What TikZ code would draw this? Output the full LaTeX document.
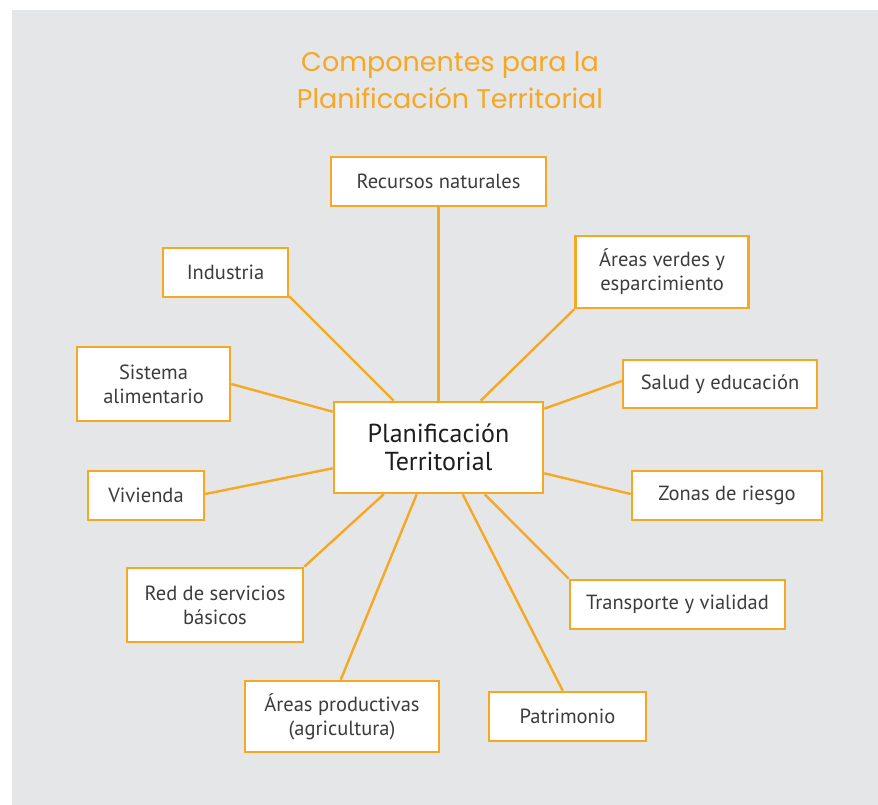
\documentclass[tikz,border=0pt]{standalone}
\usepackage{fontspec}
\setmainfont{PT Sans}
\newfontfamily\titlefont{Poppins}
\usetikzlibrary{calc}
\definecolor{orng}{RGB}{247,168,35}
\definecolor{bggray}{RGB}{229,230,232}
\definecolor{txtgray}{RGB}{60,60,62}
\definecolor{txtdark}{RGB}{30,30,33}
\tikzset{
  compbox/.style={draw=orng, line width=2.6pt, fill=white, inner sep=0pt, align=center,
    text=txtgray, font=\fontsize{20.5}{24}\selectfont, anchor=center},
  mainbox/.style={compbox, text=txtdark, font=\fontsize{26}{28}\selectfont},
  link/.style={draw=orng, line width=2.4pt}
}
\begin{document}
\begin{tikzpicture}[x=1pt,y=-1pt]
\useasboundingbox (0,0) rectangle (878,805);
\fill[bggray] (12,10) rectangle (878,805);
\node[text=orng, align=center, font=\titlefont\fontsize{27}{37}\selectfont] (title) at (450,80)
  {Componentes para la\\Planificación Territorial};
\node[mainbox, minimum width=209pt, minimum height=91pt] (c) at (438.5,447.5) {Planificación\\Territorial};
\node[compbox, minimum width=215pt, minimum height=49pt] (rec) at (438.5,181.5) {Recursos naturales};
\node[compbox, minimum width=125pt, minimum height=49pt] (ind) at (225.5,272.5) {Industria};
\node[compbox, minimum width=173pt, minimum height=72pt] (ver) at (662,272) {Áreas verdes y\\esparcimiento};
\node[compbox, minimum width=153pt, minimum height=74pt] (sis) at (153.5,384) {Sistema\\alimentario};
\node[compbox, minimum width=194pt, minimum height=48pt] (sal) at (720,384) {Salud y educación};
\node[compbox, minimum width=116pt, minimum height=49pt] (viv) at (146,495.5) {Vivienda};
\node[compbox, minimum width=190pt, minimum height=49pt] (zon) at (727,495.5) {Zonas de riesgo};
\node[compbox, minimum width=176pt, minimum height=74pt] (red) at (215,605) {Red de servicios\\básicos};
\node[compbox, minimum width=215pt, minimum height=49pt] (tra) at (677.5,604.5) {Transporte y vialidad};
\node[compbox, minimum width=194pt, minimum height=71pt] (pro) at (342,716.5) {Áreas productivas\\(agricultura)};
\node[compbox, minimum width=157pt, minimum height=49pt] (pat) at (567.5,716.5) {Patrimonio};
\draw[link] (rec.south) -- (c.north);
\draw[link] ($(ind.south east)+(0,-2)$) -- ($(c.north west)+(61,0)$);
\draw[link] (ver.south west) -- ($(c.north west)+(148,0)$);
\draw[link] (sis.east) -- ($(c.north west)+(0,11)$);
\draw[link] ($(sal.west)+(0,-3)$) -- ($(c.north east)+(0,8)$);
\draw[link] ($(viv.east)+(0,-1.5)$) -- ($(c.south west)+(0,-26)$);
\draw[link] ($(zon.west)+(0,-1.5)$) -- ($(c.south east)+(0,-21)$);
\draw[link] (red.north east) -- ($(c.south west)+(51,0)$);
\draw[link] (tra.north west) -- ($(c.south west)+(152,0)$);
\draw[link] ($(pro.north west)+(97,0)$) -- ($(c.south west)+(84,0)$);
\draw[link] ($(pat.north west)+(75,0)$) -- ($(c.south west)+(130,0)$);
\end{tikzpicture}
\end{document}
